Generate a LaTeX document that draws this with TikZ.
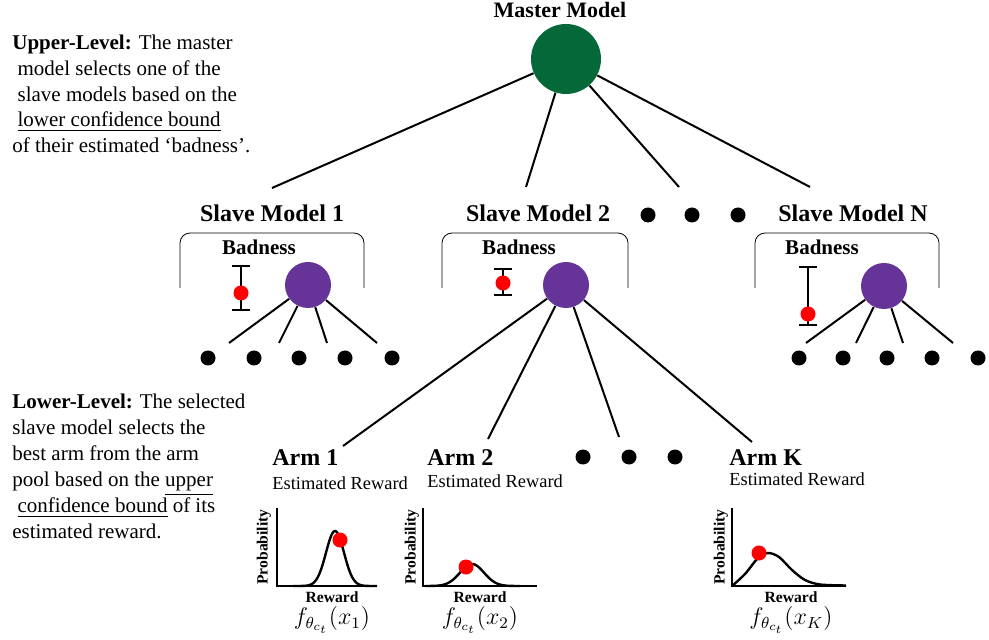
\documentclass[tikz,border=0pt]{standalone}
\usepackage{amsmath}
\usepackage{fontspec}
\setmainfont{Liberation Serif}
\usetikzlibrary{arrows.meta}
\definecolor{mastergreen}{RGB}{5,104,56}
\definecolor{slavepurple}{RGB}{102,51,153}

\begin{document}
\begin{tikzpicture}[x=0.5pt,y=-0.5pt,
  master/.style={circle,fill=mastergreen,inner sep=0pt,minimum size=35pt},
  slave/.style={circle,fill=slavepurple,inner sep=0pt,minimum size=23pt},
  dot/.style={circle,fill=black,inner sep=0pt,minimum size=7.5pt},
  hit/.style={circle,fill=red,inner sep=0pt,minimum size=7.5pt},
  title/.style={font=\fontsize{12}{14}\selectfont\bfseries},
  link/.style={line width=1pt},
  axislbl/.style={font=\fontsize{7.8}{9}\selectfont\bfseries}]
\useasboundingbox (0,0) rectangle (989,640);

\node[master] (master) at (566,59) {};
\node[font=\fontsize{11}{13}\selectfont\bfseries] (masterlbl) at (560,10) {Master Model};

\node[anchor=north west,align=left,inner sep=0pt,font=\fontsize{10.5}{12.8}\selectfont] (upper) at (12,35)
  {\textbf{Upper-Level:} The master\\
   \ model selects one of the\\
   \ slave models based on the\\
   \ \underline{lower confidence bound}\\
   of their estimated `badness'.};

% slave models
\foreach \n/\lbl/\lx/\cx/\cy/\bl/\br/\bx/\ex/\et/\eb/\ey in {
  1/Slave Model 1/272/308/285/180/364/259/241/265/311/293,
  2/Slave Model 2/538/566/285/442/628/519/503/268/296/283,
  N/Slave Model N/853/884/286/755/939/822/808/266/326/314}
{
  \node[title] (lbl\n) at (\lx,213) {\lbl};
  \node[slave] (s\n) at (\cx,\cy) {};
  \draw[rounded corners=5pt] (\bl,288) -- (\bl,233) -- (\br,233) -- (\br,288);
  \node[font=\fontsize{10.5}{12}\selectfont\bfseries] (bad\n) at (\bx,247) {Badness};
  \draw[link,{Bar[width=9pt]}-{Bar[width=9pt]}] (\ex,\et) -- (\ex,\eb);
  \node[hit] (err\n) at (\ex,\ey) {};
}
\foreach \x [count=\i] in {648,692,738}
  \node[dot] (sd\i) at (\x,215) {};

\coordinate (m1) at (272,188);
\coordinate (m2) at (526,187);
\coordinate (m3) at (679,187);
\coordinate (m4) at (810,187);
\foreach \c in {m1,m2,m3,m4}
  \draw[link] (master) -- (\c);

% arms of slave 1 and slave N
\foreach \x [count=\i] in {208,254,299,345,392}
  \node[dot] (a\i) at (\x,358) {};
\foreach \x [count=\i] in {799,843,887,932,978}
  \node[dot] (b\i) at (\x,358) {};
\foreach \x [count=\i] in {229,279,327,377} {
  \coordinate (e1\i) at (\x,343);
  \draw[link] (s1) -- (e1\i);
}
\foreach \x [count=\i] in {806,856,903,953} {
  \coordinate (eN\i) at (\x,343);
  \draw[link] (sN) -- (eN\i);
}

% arms of slave 2
\coordinate (k1) at (343,446);
\coordinate (k2) at (488,439);
\coordinate (k3) at (619,437);
\coordinate (k4) at (752,442);
\foreach \c in {k1,k2,k3,k4}
  \draw[link] (s2) -- (\c);

\foreach \k/\x/\y in {1/272/483,2/427/481,K/729/479} {
  \node[title,anchor=west,inner sep=0pt] (arm\k) at (\x,458) {Arm \k};
  \node[anchor=west,inner sep=0pt,font=\fontsize{9.2}{11}\selectfont] (est\k) at (\x,\y) {Estimated Reward};
}
\foreach \x [count=\i] in {583,629,675}
  \node[dot] (ad\i) at (\x,457) {};

\node[anchor=north west,align=left,inner sep=0pt,font=\fontsize{10.5}{13}\selectfont] (lower) at (12,394)
  {\textbf{Lower-Level:} The selected\\
   slave model selects the\\
   best arm from the arm\\
   pool based on the \underline{upper}\\
   \ \underline{confidence bound} of its\\
   estimated reward.};

% reward distributions
\foreach \k/\ax/\ex/\px/\rx in {1/277/377/264/332, 2/423/537/412/480, K/732/846/721/791} {
  \draw[line width=0.8pt] (\ax,508) -- (\ax,586) -- (\ex,586);
  \node[axislbl,rotate=90] (prob\k) at (\px,547) {Probability};
  \node[axislbl] (rew\k) at (\rx,597) {Reward};
  \node[font=\fontsize{12}{14}\selectfont] (f\k) at (\rx,620) {$f_{\theta_{c_t}}(x_\k)$};
}
\draw[line width=1.2pt] plot[domain=293:377,samples=80,smooth] (\x,{586-55*exp(-((\x-335)/9)^2/2)});
\draw[line width=1.2pt] plot[domain=425:520,samples=60,smooth] (\x,{586-22*exp(-((\x-472)/12)^2/2)});
\draw[line width=1.2pt] plot[smooth] coordinates {(732,586) (745,574) (758,558) (768,553) (779,557) (792,570) (805,580) (820,584.5) (846,585.5)};
\node[hit] (hit1) at (340,540) {};
\node[hit] (hit2) at (466,567) {};
\node[hit] (hitK) at (759,553) {};
\end{tikzpicture}
\end{document}
